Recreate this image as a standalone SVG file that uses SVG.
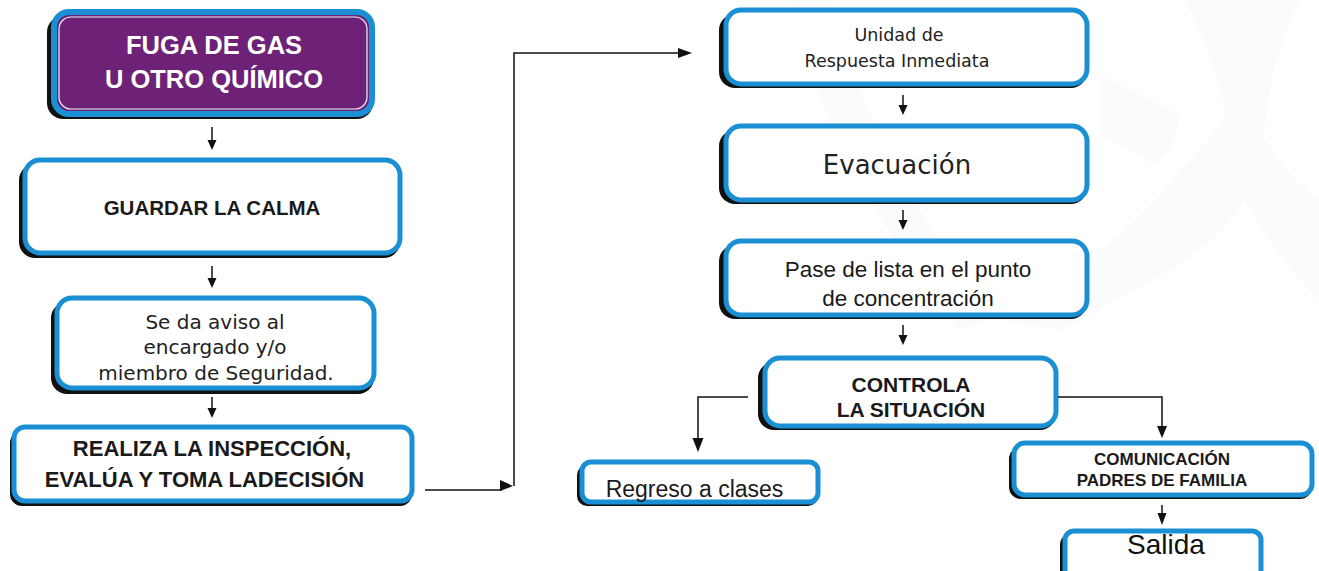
<svg xmlns="http://www.w3.org/2000/svg" width="1319" height="571" viewBox="0 0 1319 571">
<style>
.sh{fill:#101010}
.bx{fill:#fff;stroke:#1a8fd3;stroke-width:5}
.pu{fill:#6e2277;stroke:#1a8fd3;stroke-width:6}
.in{fill:none;stroke:#e8f3fa;stroke-width:1.2}
.c{font-family:"Liberation Sans",Arial,sans-serif;fill:#1a1a1a;text-anchor:middle}
.b{font-weight:bold}
.d{font-family:"DejaVu Sans",Verdana,sans-serif;fill:#222;text-anchor:middle}
.wm{fill:#f9fbfd}
.ln{fill:none;stroke:#111;stroke-width:1.5}
.ah{fill:#111}
</style>
<rect width="1319" height="571" fill="#fff"/>
<g id="watermark">
<path class="wm" d="M790 0H830Q870 150 990 320L960 330Q830 170 790 0Z"/>
<path class="wm" d="M1185 0H1300Q1270 60 1265 125L1262 135Q1290 180 1319 200V300Q1270 250 1245 200Q1220 240 1170 270Q1100 310 1060 330L1000 320Q1120 250 1180 170Q1222 130 1225 110Q1215 60 1185 0Z"/>
<path class="wm" d="M1100 75Q1150 100 1180 115Q1175 150 1155 165Q1120 145 1100 135Z"/>
</g>
<g id="n1">
<rect class="sh" x="47" y="16" width="326" height="103" rx="16"/>
<rect class="pu" x="54" y="12" width="318" height="102" rx="15"/>
<rect class="in" x="59" y="17" width="308" height="92" rx="12"/>
<text class="c b" x="214" y="54" font-size="25.5" style="fill:#fff">FUGA DE GAS</text>
<text class="c b" x="214" y="88" font-size="25.5" style="fill:#fff">U OTRO QUÍMICO</text>
</g>
<g id="n2">
<rect class="sh" x="19" y="164" width="381" height="94" rx="16"/>
<rect class="bx" x="25" y="160" width="375" height="93" rx="15"/>
<text class="c b" x="212" y="215" font-size="20.5">GUARDAR LA CALMA</text>
</g>
<g id="n3">
<rect class="sh" x="51" y="302" width="323" height="92" rx="16"/>
<rect class="bx" x="57" y="298" width="317" height="90" rx="15"/>
<text class="d" x="215" y="329" font-size="20">Se da aviso al</text>
<text class="d" x="215" y="354" font-size="20">encargado y/o</text>
<text class="d" x="216" y="380" font-size="20">miembro de Seguridad.</text>
</g>
<g id="n4">
<rect class="sh" x="10" y="431" width="402" height="75" rx="12"/>
<rect class="bx" x="14" y="427" width="398" height="74" rx="11"/>
<text class="c b" x="212" y="456" font-size="22">REALIZA LA INSPECCIÓN,</text>
<text class="c b" x="204.5" y="487" font-size="22">EVALÚA Y TOMA LADECISIÓN</text>
</g>
<g id="n5">
<rect class="sh" x="719" y="14" width="368" height="74" rx="16"/>
<rect class="bx" x="726" y="10" width="361" height="74" rx="15"/>
<text class="d" x="899" y="41" font-size="17.5">Unidad de</text>
<text class="d" x="897" y="67" font-size="17.5">Respuesta Inmediata</text>
</g>
<g id="n6">
<rect class="sh" x="719" y="130" width="368" height="74" rx="16"/>
<rect class="bx" x="726" y="126" width="361" height="74" rx="15"/>
<text class="d" x="897" y="174" font-size="26">Evacuación</text>
</g>
<g id="n7">
<rect class="sh" x="719" y="245" width="368" height="74" rx="16"/>
<rect class="bx" x="726" y="241" width="361" height="74" rx="15"/>
<text class="c" x="908" y="277" font-size="22.5">Pase de lista en el punto</text>
<text class="c" x="908" y="306" font-size="22.5">de concentración</text>
</g>
<g id="n8">
<rect class="sh" x="758" y="362" width="298" height="68" rx="16"/>
<rect class="bx" x="765" y="358" width="291" height="68" rx="15"/>
<text class="c b" x="911" y="392" font-size="21">CONTROLA</text>
<text class="c b" x="911" y="417" font-size="21">LA SITUACIÓN</text>
</g>
<g id="n9">
<rect class="sh" x="577" y="465" width="241" height="41" rx="10"/>
<rect class="bx" x="582" y="462" width="236" height="40" rx="9"/>
<text class="c" x="694.5" y="497" font-size="23">Regreso a clases</text>
</g>
<g id="n10">
<rect class="sh" x="1009" y="447" width="303" height="52" rx="12"/>
<rect class="bx" x="1014" y="443" width="298" height="52" rx="11"/>
<text class="c b" x="1162" y="465" font-size="17">COMUNICACIÓN</text>
<text class="c b" x="1162" y="486" font-size="17">PADRES DE FAMILIA</text>
</g>
<g id="n11">
<rect class="sh" x="1060" y="534" width="201" height="50" rx="10"/>
<rect class="bx" x="1065" y="531" width="196" height="50" rx="9"/>
<text class="c" x="1166" y="554" font-size="28" style="fill:#111">Salida</text>
</g>
<g id="connectors">
<path class="ln" d="M212 127V142"/><path class="ah" d="M207.5 140h9l-4.5 10z"/>
<path class="ln" d="M212 266V280"/><path class="ah" d="M207.5 278h9l-4.5 10z"/>
<path class="ln" d="M212 397V410"/><path class="ah" d="M207.5 408h9l-4.5 10z"/>
<path class="ln" d="M425 490H502"/><path class="ah" d="M500 480l13 6-13 5z"/>
<path class="ln" d="M514 486V53H680"/><path class="ah" d="M678 48l14 5-14 5z"/>
<path class="ln" d="M903 95V107"/><path class="ah" d="M898.5 105h9l-4.5 10z"/>
<path class="ln" d="M903 210V222"/><path class="ah" d="M898.5 220h9l-4.5 10z"/>
<path class="ln" d="M903 325V337"/><path class="ah" d="M898.5 335h9l-4.5 10z"/>
<path class="ln" d="M748 397H698V440"/><path class="ah" d="M692.5 438h11l-5.5 14z"/>
<path class="ln" d="M1058 397H1162V428"/><path class="ah" d="M1157 426h10l-5 12z"/>
<path class="ln" d="M1162 505V515"/><path class="ah" d="M1157.5 513h9l-4.5 12z"/>
</g>
</svg>
